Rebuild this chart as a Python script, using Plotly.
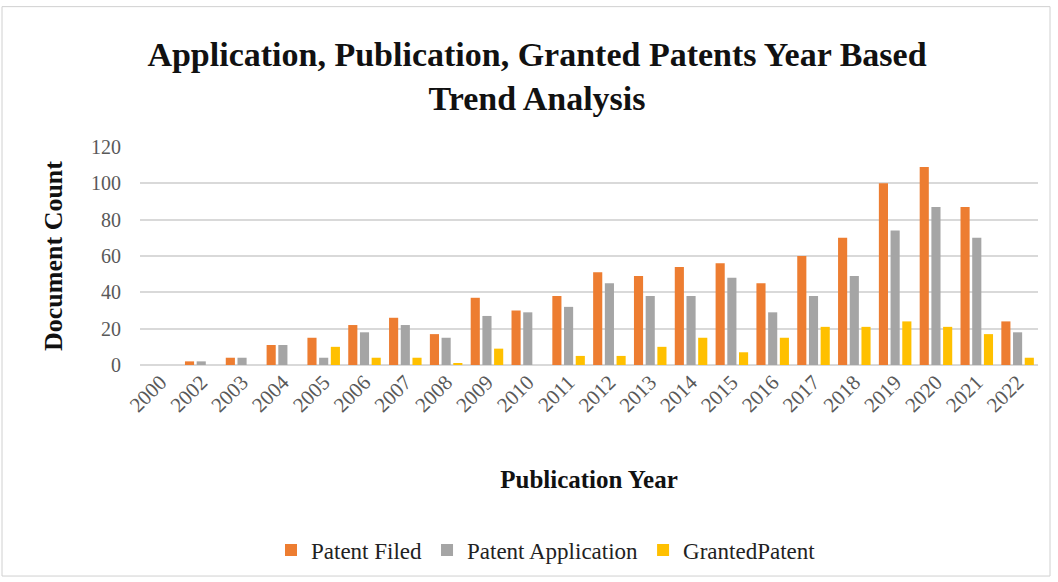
import plotly.graph_objects as go

years = ["2000", "2002", "2003", "2004", "2005", "2006", "2007", "2008", "2009", "2010", "2011",
         "2012", "2013", "2014", "2015", "2016", "2017", "2018", "2019", "2020", "2021", "2022"]
patent_filed = [0, 2, 4, 11, 15, 22, 26, 17, 37, 30, 38, 51, 49, 54, 56, 45, 60, 70, 100, 109, 87, 24]
patent_application = [0, 2, 4, 11, 4, 18, 22, 15, 27, 29, 32, 45, 38, 38, 48, 29, 38, 49, 74, 87, 70, 18]
granted_patent = [0, 0, 0, 0, 10, 4, 4, 1, 9, 0, 5, 5, 10, 15, 7, 15, 21, 21, 24, 21, 17, 4]

series = [
    ("Patent Filed", patent_filed, "#ED7D31"),
    ("Patent Application", patent_application, "#A5A5A5"),
    ("GrantedPatent", granted_patent, "#FFC000"),
]

serif = "Liberation Serif, Times New Roman, serif"

fig = go.Figure()
for name, vals, color in series:
    fig.add_trace(go.Bar(x=years, y=vals, name=name, marker_color=color,
                         marker_line_width=0))

W, H = 1058, 582
L, R, T, B = 140, 20, 147, 216
pw, ph = W - L - R, H - T - B

fig.update_layout(
    width=W, height=H,
    margin=dict(l=L, r=R, t=T, b=B),
    paper_bgcolor="white", plot_bgcolor="white",
    barmode="group", bargap=0.14, bargroupgap=0.22,
    font=dict(family=serif, color="#595959"),
    title=dict(
        text="<b>Application, Publication, Granted Patents Year Based<br>Trend Analysis</b>",
        x=537 / W, xanchor="center", y=1 - 66 / H, yanchor="top",
        font=dict(family=serif, size=34, color="#111111"),
    ),
    xaxis=dict(
        type="category", tickangle=-45, tickfont=dict(size=21, color="#595959"),
        showgrid=False, showline=False, ticks="",
        title=dict(text="<b>Publication Year</b>", font=dict(size=25, color="#111111"),
                   standoff=54),
    ),
    yaxis=dict(
        range=[0, 120], dtick=20, tickfont=dict(size=20, color="#595959"),
        gridcolor="#D9D9D9", gridwidth=1.5, zeroline=True, zerolinecolor="#D9D9D9",
        zerolinewidth=1.5, showline=False, ticklabelstandoff=18,
        title=dict(text="<b>Document Count</b>", font=dict(size=26, color="#111111"),
                   standoff=20),
    ),
    legend=dict(
        orientation="h", x=(546 - L) / pw, xanchor="center",
        y=-(550 - (T + ph)) / ph, yanchor="middle",
        font=dict(family=serif, size=23, color="#222222"), itemwidth=30,
        traceorder="normal",
    ),
)

# thin frame around the whole chart area
fig.add_shape(type="rect", xref="paper", yref="paper",
              x0=(2 - L) / pw, x1=(1050 - L) / pw,
              y0=(T + ph - 578) / ph, y1=(T + ph - 6) / ph,
              line=dict(color="#D0D0D0", width=1), fillcolor="rgba(0,0,0,0)", layer="below")

fig.write_html("out.html")
